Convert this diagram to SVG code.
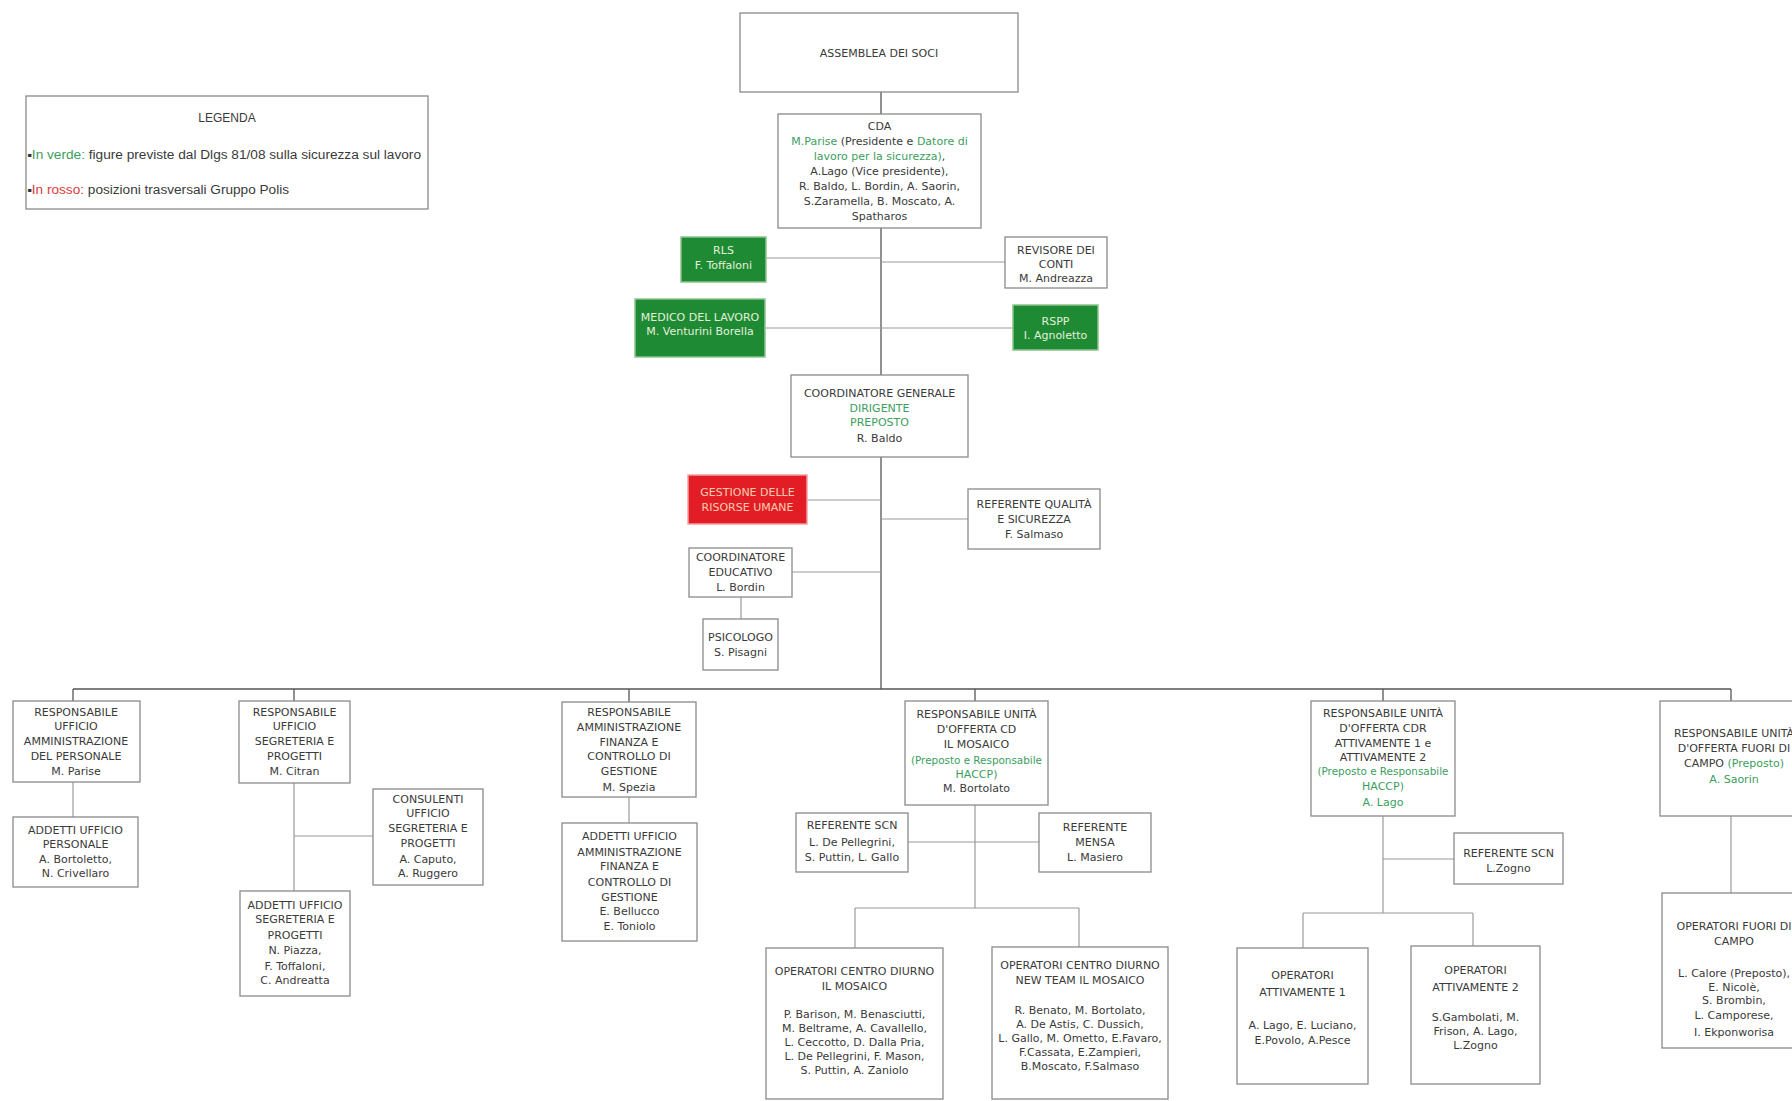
<svg xmlns="http://www.w3.org/2000/svg" width="1792" height="1101" viewBox="0 0 1792 1101">
<style>
.box{fill:#fff;stroke:#8a8a8a;stroke-width:1.3}
.gbox{fill:#1f8a34;stroke:#8cc48c;stroke-width:1.5}
.rbox{fill:#e31d26;stroke:#f2a0a0;stroke-width:1.5}
text{font-family:"DejaVu Sans",Verdana,sans-serif;font-size:11px;fill:#3a3a3a;text-anchor:middle}
.g{fill:#3c9e5e}
.w{fill:#e2f0da}
.rt{fill:#f7cdb0}
.sm{font-size:10.4px}
.leg{font-family:"Liberation Sans",Arial,sans-serif;font-size:12px;text-anchor:start}
.legc{font-family:"Liberation Sans",Arial,sans-serif;font-size:12px}
.red{fill:#e03a3a}
#connectors line{stroke:#555;stroke-width:1.3}
#connectors line.s{stroke:#9a9a9a;stroke-width:1.2}
</style>
<rect width="1792" height="1101" fill="#fff"/>

<g id="connectors">
<line x1="881" y1="92" x2="881" y2="114"/>
<line x1="881" y1="228" x2="881" y2="375"/>
<line x1="881" y1="457" x2="881" y2="689"/>
<line class="s" x1="766" y1="258" x2="881" y2="258"/>
<line class="s" x1="881" y1="262" x2="1005" y2="262"/>
<line class="s" x1="765" y1="328" x2="881" y2="328"/>
<line class="s" x1="881" y1="328" x2="1013" y2="328"/>
<line class="s" x1="807" y1="500" x2="881" y2="500"/>
<line class="s" x1="881" y1="519" x2="968" y2="519"/>
<line class="s" x1="792" y1="572" x2="881" y2="572"/>
<line class="s" x1="741" y1="597" x2="741" y2="619"/>
<line x1="73" y1="689" x2="1731" y2="689"/>
<line x1="73" y1="689" x2="73" y2="701"/>
<line x1="294" y1="689" x2="294" y2="701"/>
<line x1="629" y1="689" x2="629" y2="702"/>
<line x1="975" y1="689" x2="975" y2="701"/>
<line x1="1383" y1="689" x2="1383" y2="701"/>
<line x1="1731" y1="689" x2="1731" y2="701"/>
<line class="s" x1="73" y1="782" x2="73" y2="817"/>
<line class="s" x1="294" y1="783" x2="294" y2="891"/>
<line class="s" x1="294" y1="836" x2="373" y2="836"/>
<line class="s" x1="629" y1="797" x2="629" y2="823"/>
<line class="s" x1="975" y1="805" x2="975" y2="908"/>
<line class="s" x1="908" y1="842" x2="1039" y2="842"/>
<line class="s" x1="855" y1="908" x2="1079" y2="908"/>
<line class="s" x1="855" y1="908" x2="855" y2="948"/>
<line class="s" x1="1079" y1="908" x2="1079" y2="947"/>
<line class="s" x1="1383" y1="816" x2="1383" y2="913"/>
<line class="s" x1="1383" y1="859" x2="1454" y2="859"/>
<line class="s" x1="1303" y1="913" x2="1473" y2="913"/>
<line class="s" x1="1303" y1="913" x2="1303" y2="948"/>
<line class="s" x1="1473" y1="913" x2="1473" y2="946"/>
<line class="s" x1="1731" y1="816" x2="1731" y2="893"/>
</g>

<g id="legenda">
<rect class="box" x="26" y="96" width="402" height="113"/>
<text class="legc" x="227" y="122">LEGENDA</text>
<text class="leg" x="27" y="159" textLength="394" lengthAdjust="spacingAndGlyphs"><tspan fill="#333">▪</tspan><tspan class="g">In verde:</tspan> figure previste dal Dlgs 81/08 sulla sicurezza sul lavoro</text>
<text class="leg" x="27" y="194" textLength="262" lengthAdjust="spacingAndGlyphs"><tspan fill="#333">▪</tspan><tspan class="red">In rosso:</tspan> posizioni trasversali Gruppo Polis</text>
</g>

<g id="assemblea">
<rect class="box" x="740" y="13" width="278" height="79"/>
<text x="879" y="57">ASSEMBLEA DEI SOCI</text>
</g>

<g id="cda">
<rect class="box" x="778" y="114" width="203" height="114"/>
<text x="879.5" y="130">CDA</text>
<text x="879.5" y="145"><tspan class="g">M.Parise </tspan>(Presidente e <tspan class="g">Datore di</tspan></text>
<text x="879.5" y="160"><tspan class="g">lavoro per la sicurezza)</tspan>,</text>
<text x="879.5" y="175">A.Lago (Vice presidente),</text>
<text x="879.5" y="190">R. Baldo, L. Bordin, A. Saorin,</text>
<text x="879.5" y="205">S.Zaramella, B. Moscato, A.</text>
<text x="879.5" y="220">Spatharos</text>
</g>

<g id="rls">
<rect class="gbox" x="681" y="237" width="85" height="45"/>
<text class="w" x="723.5" y="254">RLS</text>
<text class="w" x="723.5" y="269">F. Toffaloni</text>
</g>

<g id="revisore">
<rect class="box" x="1005" y="237" width="102" height="51"/>
<text x="1056" y="254">REVISORE DEI</text>
<text x="1056" y="268">CONTI</text>
<text x="1056" y="282">M. Andreazza</text>
</g>

<g id="medico">
<rect class="gbox" x="635" y="299" width="130" height="58"/>
<text class="w" x="700" y="321">MEDICO DEL LAVORO</text>
<text class="w" x="700" y="335">M. Venturini Borella</text>
</g>

<g id="rspp">
<rect class="gbox" x="1013" y="305" width="85" height="45"/>
<text class="w" x="1055.5" y="325">RSPP</text>
<text class="w" x="1055.5" y="339">I. Agnoletto</text>
</g>

<g id="coordinatore-generale">
<rect class="box" x="791" y="375" width="177" height="82"/>
<text x="879.5" y="397">COORDINATORE GENERALE</text>
<text class="g" x="879.5" y="412">DIRIGENTE</text>
<text class="g" x="879.5" y="426">PREPOSTO</text>
<text x="879.5" y="442">R. Baldo</text>
</g>

<g id="risorse-umane">
<rect class="rbox" x="688" y="475" width="119" height="49"/>
<text class="rt" x="747.5" y="496">GESTIONE DELLE</text>
<text class="rt" x="747.5" y="511">RISORSE UMANE</text>
</g>

<g id="referente-qualita">
<rect class="box" x="968" y="489" width="132" height="60"/>
<text x="1034" y="508">REFERENTE QUALITÀ</text>
<text x="1034" y="523">E SICUREZZA</text>
<text x="1034" y="538">F. Salmaso</text>
</g>

<g id="coordinatore-educativo">
<rect class="box" x="689" y="548" width="103" height="49"/>
<text x="740.5" y="561">COORDINATORE</text>
<text x="740.5" y="576">EDUCATIVO</text>
<text x="740.5" y="591">L. Bordin</text>
</g>

<g id="psicologo">
<rect class="box" x="703" y="619" width="75" height="51"/>
<text x="740.5" y="641">PSICOLOGO</text>
<text x="740.5" y="656">S. Pisagni</text>
</g>

<g id="resp-personale">
<rect class="box" x="13" y="701" width="127" height="81"/>
<text x="76" y="716">RESPONSABILE</text>
<text x="76" y="730">UFFICIO</text>
<text x="76" y="745">AMMINISTRAZIONE</text>
<text x="76" y="760">DEL PERSONALE</text>
<text x="76" y="775">M. Parise</text>
</g>

<g id="addetti-personale">
<rect class="box" x="13" y="817" width="125" height="70"/>
<text x="75.5" y="834">ADDETTI UFFICIO</text>
<text x="75.5" y="848">PERSONALE</text>
<text x="75.5" y="863">A. Bortoletto,</text>
<text x="75.5" y="877">N. Crivellaro</text>
</g>

<g id="resp-segreteria">
<rect class="box" x="239" y="701" width="111" height="82"/>
<text x="294.5" y="716">RESPONSABILE</text>
<text x="294.5" y="730">UFFICIO</text>
<text x="294.5" y="745">SEGRETERIA E</text>
<text x="294.5" y="760">PROGETTI</text>
<text x="294.5" y="775">M. Citran</text>
</g>

<g id="consulenti">
<rect class="box" x="373" y="789" width="110" height="96"/>
<text x="428" y="803">CONSULENTI</text>
<text x="428" y="817">UFFICIO</text>
<text x="428" y="832">SEGRETERIA E</text>
<text x="428" y="847">PROGETTI</text>
<text x="428" y="863">A. Caputo,</text>
<text x="428" y="877">A. Ruggero</text>
</g>

<g id="addetti-segreteria">
<rect class="box" x="240" y="891" width="110" height="105"/>
<text x="295" y="909">ADDETTI UFFICIO</text>
<text x="295" y="923">SEGRETERIA E</text>
<text x="295" y="939">PROGETTI</text>
<text x="295" y="954">N. Piazza,</text>
<text x="295" y="970">F. Toffaloni,</text>
<text x="295" y="984">C. Andreatta</text>
</g>

<g id="resp-finanza">
<rect class="box" x="562" y="702" width="134" height="95"/>
<text x="629" y="716">RESPONSABILE</text>
<text x="629" y="731">AMMINISTRAZIONE</text>
<text x="629" y="746">FINANZA E</text>
<text x="629" y="760">CONTROLLO DI</text>
<text x="629" y="775">GESTIONE</text>
<text x="629" y="791">M. Spezia</text>
</g>

<g id="addetti-finanza">
<rect class="box" x="562" y="823" width="135" height="118"/>
<text x="629.5" y="840">ADDETTI UFFICIO</text>
<text x="629.5" y="856">AMMINISTRAZIONE</text>
<text x="629.5" y="870">FINANZA E</text>
<text x="629.5" y="886">CONTROLLO DI</text>
<text x="629.5" y="901">GESTIONE</text>
<text x="629.5" y="915">E. Bellucco</text>
<text x="629.5" y="930">E. Toniolo</text>
</g>

<g id="resp-cd-mosaico">
<rect class="box" x="905" y="701" width="143" height="104"/>
<text x="976.5" y="718">RESPONSABILE UNITÀ</text>
<text x="976.5" y="733">D'OFFERTA CD</text>
<text x="976.5" y="748">IL MOSAICO</text>
<text class="g sm" x="976.5" y="764">(Preposto e Responsabile</text>
<text class="g" x="976.5" y="778">HACCP)</text>
<text x="976.5" y="792">M. Bortolato</text>
</g>

<g id="referente-scn-cd">
<rect class="box" x="796" y="813" width="112" height="59"/>
<text x="852" y="829">REFERENTE SCN</text>
<text x="852" y="846">L. De Pellegrini,</text>
<text x="852" y="861">S. Puttin, L. Gallo</text>
</g>

<g id="referente-mensa">
<rect class="box" x="1039" y="813" width="112" height="59"/>
<text x="1095" y="831">REFERENTE</text>
<text x="1095" y="846">MENSA</text>
<text x="1095" y="861">L. Masiero</text>
</g>

<g id="operatori-cd-mosaico">
<rect class="box" x="766" y="948" width="177" height="151"/>
<text x="854.5" y="975">OPERATORI CENTRO DIURNO</text>
<text x="854.5" y="990">IL MOSAICO</text>
<text x="854.5" y="1018">P. Barison, M. Benasciutti,</text>
<text x="854.5" y="1032">M. Beltrame, A. Cavallello,</text>
<text x="854.5" y="1046">L. Ceccotto, D. Dalla Pria,</text>
<text x="854.5" y="1060">L. De Pellegrini, F. Mason,</text>
<text x="854.5" y="1074">S. Puttin, A. Zaniolo</text>
</g>

<g id="operatori-new-team">
<rect class="box" x="992" y="947" width="176" height="152"/>
<text x="1080" y="969">OPERATORI CENTRO DIURNO</text>
<text x="1080" y="984">NEW TEAM IL MOSAICO</text>
<text x="1080" y="1014">R. Benato, M. Bortolato,</text>
<text x="1080" y="1028">A. De Astis, C. Dussich,</text>
<text x="1080" y="1042">L. Gallo, M. Ometto, E.Favaro,</text>
<text x="1080" y="1056">F.Cassata, E.Zampieri,</text>
<text x="1080" y="1070">B.Moscato, F.Salmaso</text>
</g>

<g id="resp-cdr-attivamente">
<rect class="box" x="1311" y="701" width="144" height="115"/>
<text x="1383" y="717">RESPONSABILE UNITÀ</text>
<text x="1383" y="732">D'OFFERTA CDR</text>
<text x="1383" y="747">ATTIVAMENTE 1 e</text>
<text x="1383" y="761">ATTIVAMENTE 2</text>
<text class="g sm" x="1383" y="775">(Preposto e Responsabile</text>
<text class="g" x="1383" y="790">HACCP)</text>
<text class="g" x="1383" y="806">A. Lago</text>
</g>

<g id="referente-scn-cdr">
<rect class="box" x="1454" y="833" width="109" height="51"/>
<text x="1508.5" y="857">REFERENTE SCN</text>
<text x="1508.5" y="872">L.Zogno</text>
</g>

<g id="operatori-attivamente-1">
<rect class="box" x="1237" y="948" width="131" height="136"/>
<text x="1302.5" y="979">OPERATORI</text>
<text x="1302.5" y="996">ATTIVAMENTE 1</text>
<text x="1302.5" y="1029">A. Lago, E. Luciano,</text>
<text x="1302.5" y="1044">E.Povolo, A.Pesce</text>
</g>

<g id="operatori-attivamente-2">
<rect class="box" x="1411" y="946" width="129" height="138"/>
<text x="1475.5" y="974">OPERATORI</text>
<text x="1475.5" y="991">ATTIVAMENTE 2</text>
<text x="1475.5" y="1021">S.Gambolati, M.</text>
<text x="1475.5" y="1035">Frison, A. Lago,</text>
<text x="1475.5" y="1049">L.Zogno</text>
</g>

<g id="resp-fuori-campo">
<rect class="box" x="1660" y="701" width="150" height="115"/>
<text x="1734" y="737">RESPONSABILE UNITÀ</text>
<text x="1734" y="752">D'OFFERTA FUORI DI</text>
<text x="1734" y="767">CAMPO <tspan class="g">(Preposto)</tspan></text>
<text class="g" x="1734" y="783">A. Saorin</text>
</g>

<g id="operatori-fuori-campo">
<rect class="box" x="1662" y="893" width="150" height="155"/>
<text x="1734" y="930">OPERATORI FUORI DI</text>
<text x="1734" y="945">CAMPO</text>
<text x="1734" y="977">L. Calore (Preposto),</text>
<text x="1734" y="991">E. Nicolè,</text>
<text x="1734" y="1004">S. Brombin,</text>
<text x="1734" y="1019">L. Camporese,</text>
<text x="1734" y="1036">I. Ekponworisa</text>
</g>
</svg>
